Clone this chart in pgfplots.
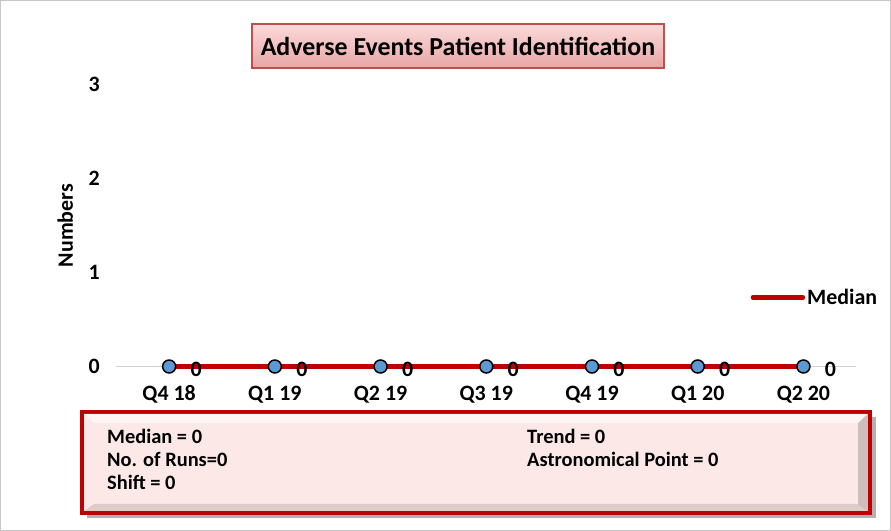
\documentclass[border=0pt]{standalone}
\usepackage{pgfplots}
\pgfplotsset{compat=1.18}
\usepackage{fontspec}
\setmainfont{Carlito}
\definecolor{medred}{HTML}{C00000}
\definecolor{ptblue}{HTML}{5B9BD5}
\definecolor{boxfill}{HTML}{FDE8E8}
\definecolor{titletop}{HTML}{FBDADA}
\definecolor{titlebot}{HTML}{E9A5A5}
\definecolor{titleborder}{HTML}{C0504D}
\begin{document}
\begin{tikzpicture}[x=1bp,y=1bp]
\draw[draw=gray!45, line width=1bp] (0.5,0.5) rectangle (890.5,530.5);
\begin{axis}[at={(160,175)}, anchor=origin, scale only axis,
  width=740bp, height=282bp,
  xmin=-0.5, xmax=6.5, ymin=0, ymax=3,
  clip=false,
  axis x line*=bottom, axis y line*=left,
  x axis line style={draw=gray!35, line width=1.2bp, -},
  y axis line style={draw=none},
  xtick={0,1,2,3,4,5,6},
  xticklabels={Q4 18,Q1 19,Q2 19,Q3 19,Q4 19,Q1 20,Q2 20},
  ytick={0,1,2,3},
  major tick length=0pt,
  tick label style={font=\fontsize{22}{26}\selectfont\bfseries},
  /pgf/number format/assume math mode=true,
  xticklabel style={anchor=center, yshift=-28bp},
  yticklabel style={anchor=center, xshift=-22bp},
  ylabel={\fontsize{22}{26}\selectfont\bfseries Numbers},
  ylabel style={at={(rel axis cs:-0.069,0.5)}, anchor=center},
  legend style={at={(rel axis cs:0.857,0.245)}, anchor=west, draw=none, fill=none,
    font=\fontsize{22}{26}\selectfont\bfseries, inner sep=0pt},
  legend cell align=left,
]
\addplot[forget plot, only marks, mark=*, mark size=6.5bp,
  mark options={fill=ptblue, draw=black, line width=1.5bp},
  nodes near coords={\pgfmathprintnumber[assume math mode=true]{\pgfplotspointmeta}},
  nodes near coords style={anchor=center, xshift=27bp, yshift=-3bp,
    font=\fontsize{22}{26}\selectfont\bfseries}]
  coordinates {(0,0) (1,0) (2,0) (3,0) (4,0) (5,0) (6,0)};
\addplot[medred, line width=4.5bp, no marks,
  legend image code/.code={\draw[medred, line width=4.5bp, line cap=round] (0bp,0bp) -- (50bp,0bp);}]
  coordinates {(0,0) (1,0) (2,0) (3,0) (4,0) (5,0) (6,0)};
\addlegendentry{Median}
\end{axis}
\node[draw=titleborder, line width=1.5bp, top color=titletop, bottom color=titlebot,
  minimum width=412bp, minimum height=44bp, inner sep=0pt,
  font=\fontsize{26}{30}\selectfont\bfseries] at (458,485) {Adverse Events Patient Identification};
\fill[black, opacity=0.3] (87,13) rectangle (876,114);
\draw[draw=medred, line width=4bp, fill=boxfill]
  (82,18) rectangle (870,119);
\fill[white, opacity=0.6] (84,117) -- (868,117) -- (858,108) -- (94,108) -- cycle;
\fill[black, opacity=0.12] (84,20) -- (868,20) -- (858,27) -- (94,27) -- cycle;
\fill[black, opacity=0.18] (868,20) -- (868,117) -- (858,108) -- (858,27) -- cycle;
\begin{scope}[every node/.style={anchor=west, inner sep=0pt, font=\fontsize{20.5}{24}\selectfont\bfseries}]
\node at (107,95) {Median = 0};
\node at (107,72) {No. of Runs=0};
\node at (107,49) {Shift = 0};
\node at (527,95) {Trend = 0};
\node at (527,72) {Astronomical Point = 0};
\end{scope}
\end{tikzpicture}
\end{document}
